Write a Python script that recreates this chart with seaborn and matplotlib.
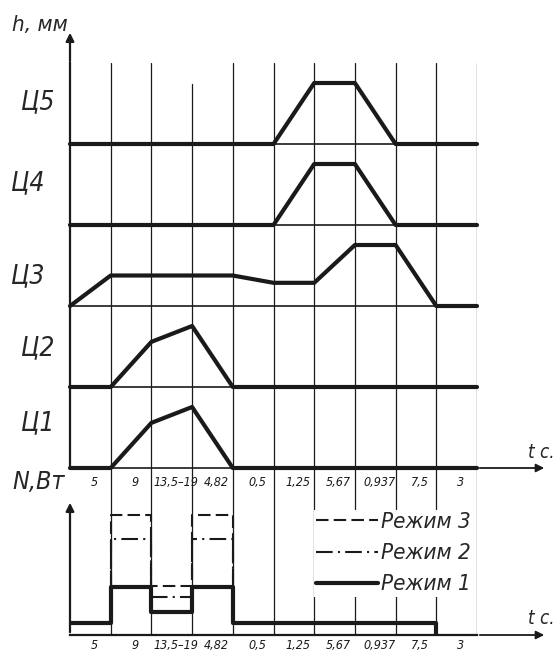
import numpy as np
import matplotlib
matplotlib.use('Agg')
import matplotlib.pyplot as plt
from matplotlib.lines import Line2D
import seaborn as sns

# durations of the steps (same labels on both time axes)
col_labels = ['5', '9', '13,5–19', '4,82', '0,5', '1,25', '5,67', '0,937', '7,5', '3']
edges = np.arange(len(col_labels) + 1)

# cylinder stroke at every step boundary, 1 = full stroke
cyl_names = ['Ц1', 'Ц2', 'Ц3', 'Ц4', 'Ц5']
c1 = [0, 0, 0.74, 1, 0, 0, 0, 0, 0, 0, 0]
c2 = [0, 0, 0.74, 1, 0, 0, 0, 0, 0, 0, 0]
c3 = [0, 0.5, 0.5, 0.5, 0.5, 0.38, 0.38, 1, 1, 0, 0]
c4 = [0, 0, 0, 0, 0, 0, 1, 1, 0, 0, 0]
c5 = [0, 0, 0, 0, 0, 0, 1, 1, 0, 0, 0]

# power per step for each mode
mode1 = [1, 4, 1.9, 4, 1, 1, 1, 1, 1]   # steps 0..8, zero afterwards
mode2 = [8, 3.2, 8]                     # steps 1..3
mode3 = [10, 4.1, 10]                   # steps 1..3
mode_start = 1

sns.set_theme(style='white')
plt.rcParams['font.family'] = ['DejaVu Sans']
plt.rcParams['font.style'] = 'italic'
plt.rcParams['font.stretch'] = 'condensed'


def steps(start, vals):
    xs, ys = [], []
    for i, v in enumerate(vals):
        xs += [start + i, start + i + 1]
        ys += [v, v]
    return np.array(xs, float), np.array(ys, float)


W, H = 557, 653
fig = plt.figure(figsize=(W / 100, H / 100), dpi=100)
fig.patch.set_facecolor('white')


def fx(px):
    return px / W


def fy(px):
    return 1 - px / H


left, right = 70, 477
panel_h = 81
x_end = 10 + (547 - right) / ((right - left) / 10)

# power diagram axes first so the upper tick labels stay on top
axn = fig.add_axes([fx(left), fy(635), fx(right) - fx(left), (635 - 468) / H])
axn.patch.set_alpha(0)

axes = []
for i, (name, vals) in enumerate(zip(cyl_names, [c1, c2, c3, c4, c5])):
    bottom = 468 - panel_h * i
    ax = fig.add_axes([fx(left), fy(bottom), fx(right) - fx(left), panel_h / H])
    ax.set_xlim(0, 10)
    ax.set_ylim(0, panel_h / 61)
    for x in edges[1:]:
        # in the top panel the middle line starts a little lower
        top = (84 - 63) / panel_h if (i == 4 and x == 3) else 0
        ax.axvline(x, ymax=1 - top, color='k', lw=0.9, zorder=1)
    sns.lineplot(x=edges, y=vals, estimator=None, sort=False, ax=ax,
                 color='k', lw=3, zorder=3, clip_on=False)
    for s in ['top', 'right']:
        ax.spines[s].set_visible(False)
    ax.spines['left'].set_linewidth(1.6)
    ax.spines['bottom'].set_linewidth(1.2)
    ax.spines['left'].set_color('k')
    ax.spines['bottom'].set_color('k')
    ax.set_yticks([])
    ax.set_xticks([])
    ax.set_xlabel('')
    ax.set_ylabel('')
    ax.patch.set_alpha(0)
    axes.append(ax)

# labels of the cylinders
lab_x = [38, 38, 28, 28, 38]
lab_y = [423, 348, 276, 183, 102]
for name, x, y in zip(cyl_names, lab_x, lab_y):
    fig.text(fx(x), fy(y), name, fontsize=19, ha='center', va='center')

ax1 = axes[0]
ax1.set_xticks(edges[:-1] + 0.6, col_labels, fontsize=9, color='k')
ax1.tick_params(axis='x', length=0, pad=6)
ax1.annotate('', xy=(x_end, 0), xytext=(10, 0),
             arrowprops=dict(arrowstyle='-|>', lw=1.3, color='k', mutation_scale=12),
             annotation_clip=False)
top_ax = axes[-1]
top_ax.annotate('', xy=(0, 1 + 33 / panel_h), xytext=(0, 0.99), xycoords='axes fraction',
                arrowprops=dict(arrowstyle='-|>', lw=1.6, color='k', mutation_scale=12),
                annotation_clip=False)

fig.text(fx(12), fy(25), 'h, мм', fontsize=16, ha='left', va='center')
fig.text(fx(12), fy(482), 'N,Вт', fontsize=18, ha='left', va='center')
fig.text(fx(528), fy(452), 't c.', fontsize=13.5, ha='left', va='center')
fig.text(fx(528), fy(618), 't c.', fontsize=13.5, ha='left', va='center')

axn.set_xlim(0, 10)
axn.set_ylim(0, (635 - 468) / 12)
for x in edges[1:]:
    axn.axvline(x, color='k', lw=0.9, zorder=1)

x1, y1 = steps(0, mode1)
x1 = np.append(x1, x1[-1])
y1 = np.append(y1, 0)
x2, y2 = steps(mode_start, mode2)
x3, y3 = steps(mode_start, mode3)
x2 = np.concatenate([[x2[0]], x2, [x2[-1]]])
y2 = np.concatenate([[mode1[mode_start]], y2, [mode1[mode_start + 2]]])
x3 = np.concatenate([[x3[0]], x3, [x3[-1]]])
y3 = np.concatenate([[mode1[mode_start]], y3, [mode1[mode_start + 2]]])

sns.lineplot(x=x3, y=y3, estimator=None, sort=False, ax=axn, color='k', lw=1.5,
             zorder=2).lines[-1].set_dashes((6, 2.5))
sns.lineplot(x=x2, y=y2, estimator=None, sort=False, ax=axn, color='k', lw=1.5,
             zorder=2).lines[-1].set_dashes((8, 2.5, 1, 2.5))
sns.lineplot(x=x1, y=y1, estimator=None, sort=False, ax=axn, color='k', lw=3, zorder=3)

for s in ['top', 'right', 'left']:
    axn.spines[s].set_visible(False)
axn.spines['bottom'].set_linewidth(1.6)
axn.spines['bottom'].set_color('k')
axn.set_yticks([])
axn.set_xticks(edges[:-1] + 0.6, col_labels, fontsize=9, color='k')
axn.tick_params(axis='x', length=0, pad=3)
axn.set_xlabel('')
axn.set_ylabel('')
axn.annotate('', xy=(x_end, 0), xytext=(10, 0),
             arrowprops=dict(arrowstyle='-|>', lw=1.3, color='k', mutation_scale=12),
             annotation_clip=False)
axn.annotate('', xy=(0, (635 - 500) / 12), xytext=(0, 0),
             arrowprops=dict(arrowstyle='-|>', lw=1.6, color='k', mutation_scale=12),
             annotation_clip=False)

handles = [Line2D([], [], color='k', lw=1.5, dashes=(6, 2.5)),
           Line2D([], [], color='k', lw=1.5, dashes=(8, 2.5, 1, 2.5)),
           Line2D([], [], color='k', lw=3)]
leg = axn.legend(handles, ['Режим 3', 'Режим 2', 'Режим 1'], loc='upper left',
                 bbox_to_anchor=((314 - left) / (right - left), (635 - 510) / 167),
                 fontsize=16, handlelength=2.8, handletextpad=0.1, labelspacing=0.5,
                 borderpad=0.1, borderaxespad=0, frameon=True, fancybox=False,
                 edgecolor='none', facecolor='white', framealpha=1)

fig.savefig('out.png', dpi=100, facecolor='white')
